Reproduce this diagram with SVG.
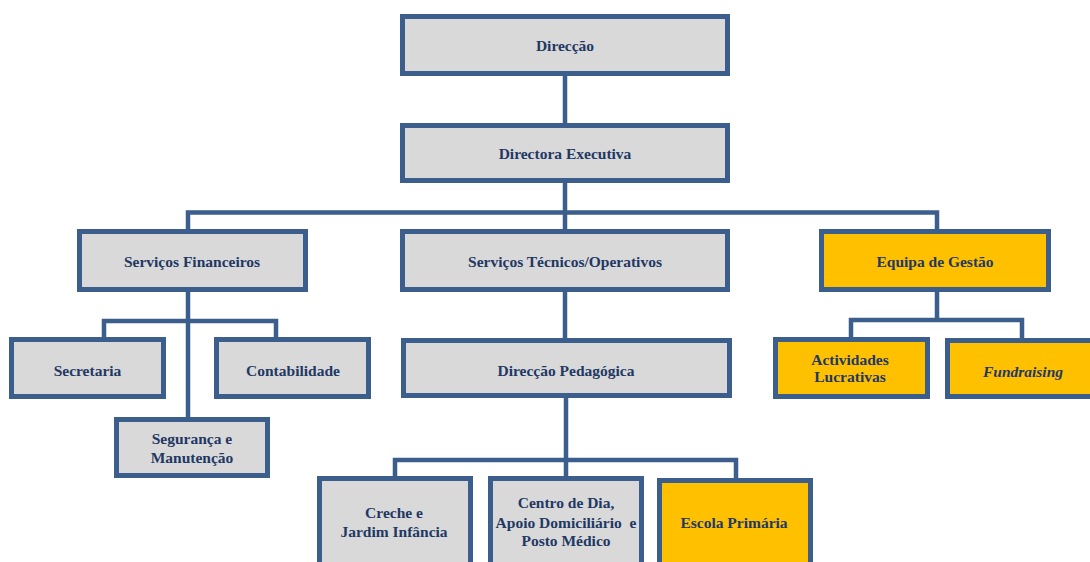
<svg xmlns="http://www.w3.org/2000/svg" width="1090" height="562" viewBox="0 0 1090 562">
<style>
.box{stroke:#3B5E8C;stroke-width:5;stroke-linejoin:miter}
.g{fill:#D9D9D9}
.y{fill:#FFC000}
.t{font-family:"Liberation Serif","Times New Roman",serif;font-weight:bold;font-size:15.5px;fill:#1F3864;text-anchor:middle;white-space:pre}
.i{font-style:italic}
.c{fill:none;stroke:#3B5E8C;stroke-width:4.5;stroke-linejoin:miter}
</style>
<rect width="1090" height="562" fill="#FFFFFF"/>
<g id="connectors">
<path class="c" d="M565,76V123M565,183V229M188,231V212.5H937V231M565,212.5V183"/>
<path class="c" d="M188,292V419M104,339V321H276V339"/>
<path class="c" d="M565,292V340"/>
<path class="c" d="M566,398V478M395,478V460H736V480"/>
<path class="c" d="M937,292V320M851,339V320H1022V340"/>
</g>
<g id="direccao"><rect class="box g" x="402.5" y="16.5" width="325" height="57"/><text class="t" x="565" y="51">Direcção</text></g>
<g id="directora-executiva"><rect class="box g" x="402.5" y="125.5" width="325" height="55"/><text class="t" x="565" y="159">Directora Executiva</text></g>
<g id="servicos-financeiros"><rect class="box g" x="79.5" y="231.5" width="226" height="58"/><text class="t" x="192" y="267">Serviços Financeiros</text></g>
<g id="servicos-tecnicos"><rect class="box g" x="402.5" y="231.5" width="325" height="58"/><text class="t" x="565" y="267">Serviços Técnicos/Operativos</text></g>
<g id="equipa-gestao"><rect class="box y" x="821.5" y="231.5" width="227" height="58"/><text class="t" x="935" y="267">Equipa de Gestão</text></g>
<g id="secretaria"><rect class="box g" x="11.5" y="339.5" width="152" height="57"/><text class="t" x="87.5" y="376">Secretaria</text></g>
<g id="contabilidade"><rect class="box g" x="216.5" y="339.5" width="152" height="57"/><text class="t" x="293" y="376">Contabilidade</text></g>
<g id="seguranca"><rect class="box g" x="116.5" y="419.5" width="151" height="56"/><text class="t" x="192" y="444">Segurança e</text><text class="t" x="192" y="463">Manutenção</text></g>
<g id="direccao-pedagogica"><rect class="box g" x="403.5" y="340.5" width="326" height="55"/><text class="t" x="566" y="376">Direcção Pedagógica</text></g>
<g id="actividades"><rect class="box y" x="775.5" y="339.5" width="152" height="57"/><text class="t" x="850" y="365">Actividades</text><text class="t" x="850" y="382">Lucrativas</text></g>
<g id="fundraising"><rect class="box y" x="947.5" y="340.5" width="153" height="56"/><text class="t i" x="1023" y="377">Fundraising</text></g>
<g id="creche"><rect class="box g" x="319.5" y="478.5" width="151" height="100"/><text class="t" x="394" y="518">Creche e</text><text class="t" x="394" y="537">Jardim Infância</text></g>
<g id="centro-dia"><rect class="box g" x="490.5" y="478.5" width="151" height="100"/><text class="t" x="566" y="508">Centro de Dia,</text><text class="t" x="566" y="528">Apoio Domiciliário  e</text><text class="t" x="566" y="546">Posto Médico</text></g>
<g id="escola-primaria"><rect class="box y" x="659.5" y="480.5" width="151" height="100"/><text class="t" x="734" y="528">Escola Primária</text></g>
</svg>
